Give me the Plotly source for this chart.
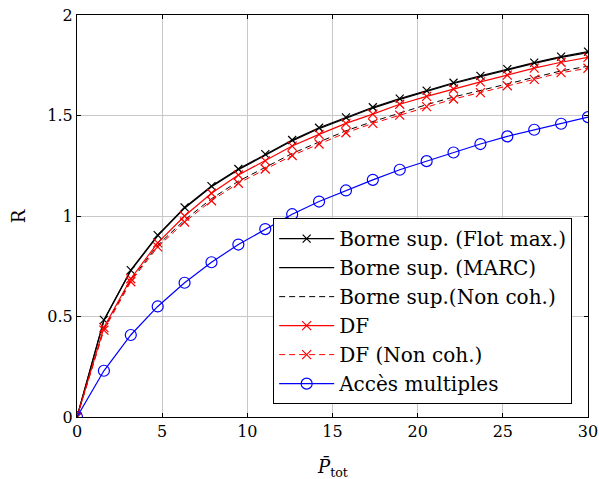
import numpy as np
import plotly.graph_objects as go

P = [0, 1.579, 3.158, 4.737, 6.316, 7.895, 9.474, 11.053, 12.632, 14.211,
     15.789, 17.368, 18.947, 20.526, 22.105, 23.684, 25.263, 26.842, 28.421, 30]

flot_max = [0, 0.483, 0.731, 0.905, 1.043, 1.149, 1.234, 1.308, 1.378, 1.439,
            1.491, 1.541, 1.584, 1.624, 1.663, 1.697, 1.731, 1.763, 1.793, 1.818]
marc = [0, 0.480, 0.728, 0.901, 1.039, 1.145, 1.230, 1.304, 1.374, 1.435,
        1.487, 1.537, 1.580, 1.620, 1.659, 1.693, 1.727, 1.759, 1.789, 1.813]
non_coh = [0, 0.440, 0.680, 0.855, 0.980, 1.086, 1.173, 1.244, 1.311, 1.368,
           1.424, 1.470, 1.512, 1.554, 1.592, 1.624, 1.658, 1.690, 1.722, 1.745]
df = [0, 0.445, 0.688, 0.866, 1.000, 1.113, 1.204, 1.274, 1.348, 1.406,
      1.461, 1.507, 1.556, 1.595, 1.632, 1.667, 1.701, 1.736, 1.765, 1.789]
df_non_coh = [0, 0.432, 0.673, 0.846, 0.970, 1.076, 1.163, 1.234, 1.301, 1.358,
              1.414, 1.461, 1.502, 1.544, 1.582, 1.614, 1.648, 1.680, 1.713, 1.735]
acces = [0, 0.230, 0.408, 0.550, 0.668, 0.770, 0.858, 0.935, 1.009, 1.072,
         1.127, 1.180, 1.230, 1.273, 1.316, 1.358, 1.396, 1.429, 1.459, 1.492]

x_ticks = [0, 5, 10, 15, 20, 25, 30]
y_ticks = [0, 0.5, 1, 1.5, 2]
y_tick_text = ["0", "0.5", "1", "1.5", "2"]

FONT = "DejaVu Serif"

fig = go.Figure()
fig.add_trace(go.Scatter(x=P, y=flot_max, name="Borne sup. (Flot max.)", mode="lines+markers",
                         line=dict(color="black", width=1.2),
                         marker=dict(symbol="x-thin-open", size=8, line=dict(color="black", width=1.2))))
fig.add_trace(go.Scatter(x=P, y=marc, name="Borne sup. (MARC)", mode="lines",
                         line=dict(color="black", width=1.2)))
fig.add_trace(go.Scatter(x=P, y=non_coh, name="Borne sup.(Non coh.)", mode="lines",
                         line=dict(color="black", width=1, dash="6px,4px")))
fig.add_trace(go.Scatter(x=P, y=df, name="DF", mode="lines+markers",
                         line=dict(color="red", width=1.2),
                         marker=dict(symbol="x-thin-open", size=9, line=dict(color="red", width=1.2))))
fig.add_trace(go.Scatter(x=P, y=df_non_coh, name="DF (Non coh.)", mode="lines+markers",
                         line=dict(color="red", width=1, dash="6px,4px"),
                         marker=dict(symbol="x-thin-open", size=9, line=dict(color="red", width=1.2))))
fig.add_trace(go.Scatter(x=P, y=acces, name="Accès multiples", mode="lines+markers",
                         line=dict(color="blue", width=1.2),
                         marker=dict(symbol="circle-open", size=11, line=dict(color="blue", width=1.2))))

fig.update_layout(
    width=599, height=479,
    margin=dict(l=77, r=11, t=15, b=62),
    paper_bgcolor="white", plot_bgcolor="white",
    font=dict(family=FONT, size=17, color="black"),
    showlegend=True,
    legend=dict(x=0.969, y=0.032, xanchor="right", yanchor="bottom",
                bgcolor="white", bordercolor="black", borderwidth=1,
                font=dict(family=FONT, size=20), tracegroupgap=0,
                itemwidth=55),
    xaxis=dict(range=[0, 30], tickvals=x_ticks, showgrid=True, gridcolor="#c8c8c8", gridwidth=1,
               showline=True, linecolor="black", linewidth=1, mirror="ticks",
               ticks="inside", ticklen=4, tickcolor="black", zeroline=False,
               automargin=False, ticklabeloverflow="allow",
               tickfont=dict(family=FONT, size=16)),
    yaxis=dict(range=[0, 2], tickvals=y_ticks, ticktext=y_tick_text, showgrid=True, gridcolor="#c8c8c8", gridwidth=1,
               showline=True, linecolor="black", linewidth=1, mirror="ticks",
               ticks="inside", ticklen=4, tickcolor="black", zeroline=False,
               automargin=False, ticklabeloverflow="allow",
               tickfont=dict(family=FONT, size=16)),
    annotations=[
        dict(text="<i>P̄</i><sub>tot</sub>", x=0.5, y=-0.125, xref="paper", yref="paper",
             xanchor="center", yanchor="middle", showarrow=False, font=dict(family=FONT, size=18)),
        dict(text="R", x=-0.115, y=0.5, xref="paper", yref="paper", textangle=-90,
             xanchor="center", yanchor="middle", showarrow=False, font=dict(family=FONT, size=18)),
    ],
)

fig.write_html("out.html", config={"displayModeBar": False},
               post_script="document.body.style.margin='0';document.body.style.padding='0';")
